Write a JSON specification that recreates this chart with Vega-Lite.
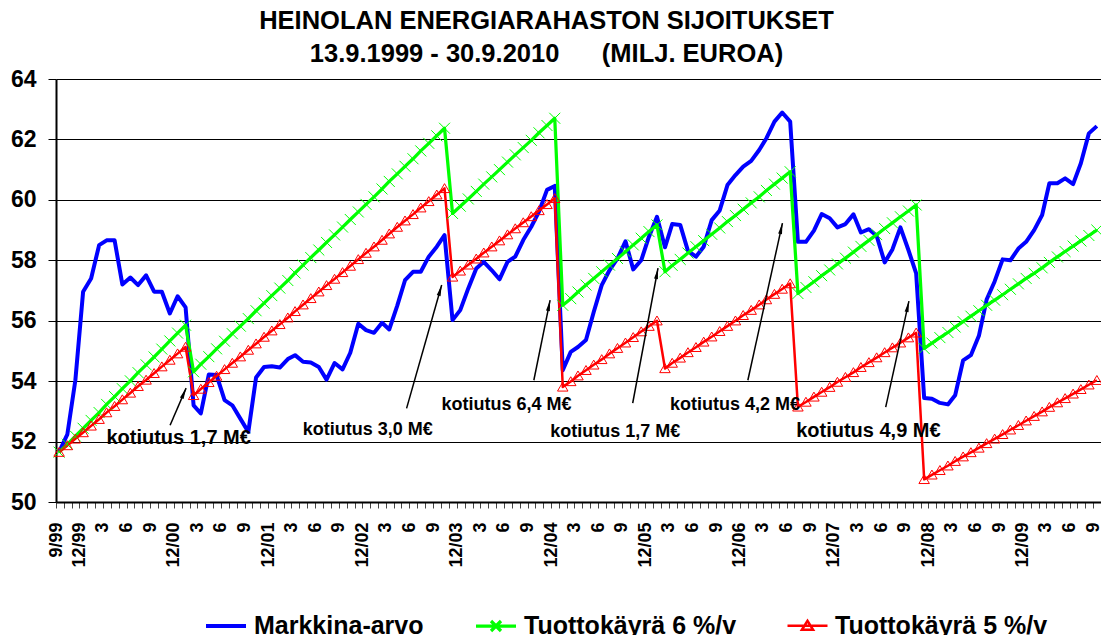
{
  "$schema": "https://vega.github.io/schema/vega-lite/v6.json",
  "autosize": {"type": "none"},
  "width": 1045,
  "height": 423,
  "padding": {"left": 56, "top": 79, "right": 0, "bottom": 133},
  "background": "white",
  "config": {
    "view": {"stroke": null},
    "font": "Liberation Sans"
  },
  "title": {
    "text": ["HEINOLAN ENERGIARAHASTON SIJOITUKSET", "13.9.1999 - 30.9.2010\u00a0\u00a0\u00a0\u00a0\u00a0\u00a0(MILJ. EUROA)"],
    "font": "Liberation Sans",
    "fontSize": 25.5,
    "fontWeight": "bold",
    "color": "black",
    "anchor": "middle",
    "frame": "group",
    "dx": -32,
    "offset": 1,
    "lineHeight": 33
  },
  "datasets": {
    "series": [
      {"d": "1999-09-13", "Markkina-arvo": 51.66, "Tuottokäyrä 6 %/v": 51.65, "Tuottokäyrä 5 %/v": 51.65},
      {"d": "1999-10-15", "Markkina-arvo": 52.24, "Tuottokäyrä 6 %/v": 51.91, "Tuottokäyrä 5 %/v": 51.87},
      {"d": "1999-11-15", "Markkina-arvo": 54.03, "Tuottokäyrä 6 %/v": 52.18, "Tuottokäyrä 5 %/v": 52.09},
      {"d": "1999-12-15", "Markkina-arvo": 56.96, "Tuottokäyrä 6 %/v": 52.44, "Tuottokäyrä 5 %/v": 52.30},
      {"d": "2000-01-15", "Markkina-arvo": 57.4, "Tuottokäyrä 6 %/v": 52.70, "Tuottokäyrä 5 %/v": 52.52},
      {"d": "2000-02-15", "Markkina-arvo": 58.5, "Tuottokäyrä 6 %/v": 52.96, "Tuottokäyrä 5 %/v": 52.74},
      {"d": "2000-03-15", "Markkina-arvo": 58.66, "Tuottokäyrä 6 %/v": 53.23, "Tuottokäyrä 5 %/v": 52.96},
      {"d": "2000-04-15", "Markkina-arvo": 58.66, "Tuottokäyrä 6 %/v": 53.49, "Tuottokäyrä 5 %/v": 53.17},
      {"d": "2000-05-15", "Markkina-arvo": 57.2, "Tuottokäyrä 6 %/v": 53.75, "Tuottokäyrä 5 %/v": 53.39},
      {"d": "2000-06-15", "Markkina-arvo": 57.43, "Tuottokäyrä 6 %/v": 54.01, "Tuottokäyrä 5 %/v": 53.61},
      {"d": "2000-07-15", "Markkina-arvo": 57.18, "Tuottokäyrä 6 %/v": 54.28, "Tuottokäyrä 5 %/v": 53.83},
      {"d": "2000-08-15", "Markkina-arvo": 57.5, "Tuottokäyrä 6 %/v": 54.54, "Tuottokäyrä 5 %/v": 54.04},
      {"d": "2000-09-15", "Markkina-arvo": 56.96, "Tuottokäyrä 6 %/v": 54.80, "Tuottokäyrä 5 %/v": 54.26},
      {"d": "2000-10-15", "Markkina-arvo": 56.96, "Tuottokäyrä 6 %/v": 55.06, "Tuottokäyrä 5 %/v": 54.48},
      {"d": "2000-11-15", "Markkina-arvo": 56.24, "Tuottokäyrä 6 %/v": 55.33, "Tuottokäyrä 5 %/v": 54.70},
      {"d": "2000-12-15", "Markkina-arvo": 56.81, "Tuottokäyrä 6 %/v": 55.59, "Tuottokäyrä 5 %/v": 54.91},
      {"d": "2001-01-15", "Markkina-arvo": 56.44, "Tuottokäyrä 6 %/v": 55.85, "Tuottokäyrä 5 %/v": 55.13},
      {"d": "2001-02-15", "Markkina-arvo": 53.2, "Tuottokäyrä 6 %/v": 54.31, "Tuottokäyrä 5 %/v": 53.53},
      {"d": "2001-03-15", "Markkina-arvo": 52.93, "Tuottokäyrä 6 %/v": 54.56, "Tuottokäyrä 5 %/v": 53.74},
      {"d": "2001-04-15", "Markkina-arvo": 54.22, "Tuottokäyrä 6 %/v": 54.81, "Tuottokäyrä 5 %/v": 53.96},
      {"d": "2001-05-15", "Markkina-arvo": 54.2, "Tuottokäyrä 6 %/v": 55.07, "Tuottokäyrä 5 %/v": 54.17},
      {"d": "2001-06-15", "Markkina-arvo": 53.37, "Tuottokäyrä 6 %/v": 55.32, "Tuottokäyrä 5 %/v": 54.39},
      {"d": "2001-07-15", "Markkina-arvo": 53.2, "Tuottokäyrä 6 %/v": 55.57, "Tuottokäyrä 5 %/v": 54.60},
      {"d": "2001-08-15", "Markkina-arvo": 52.76, "Tuottokäyrä 6 %/v": 55.82, "Tuottokäyrä 5 %/v": 54.81},
      {"d": "2001-09-15", "Markkina-arvo": 52.32, "Tuottokäyrä 6 %/v": 56.07, "Tuottokäyrä 5 %/v": 55.03},
      {"d": "2001-10-15", "Markkina-arvo": 54.12, "Tuottokäyrä 6 %/v": 56.33, "Tuottokäyrä 5 %/v": 55.24},
      {"d": "2001-11-15", "Markkina-arvo": 54.47, "Tuottokäyrä 6 %/v": 56.58, "Tuottokäyrä 5 %/v": 55.46},
      {"d": "2001-12-15", "Markkina-arvo": 54.49, "Tuottokäyrä 6 %/v": 56.83, "Tuottokäyrä 5 %/v": 55.67},
      {"d": "2002-01-15", "Markkina-arvo": 54.45, "Tuottokäyrä 6 %/v": 57.08, "Tuottokäyrä 5 %/v": 55.88},
      {"d": "2002-02-15", "Markkina-arvo": 54.73, "Tuottokäyrä 6 %/v": 57.33, "Tuottokäyrä 5 %/v": 56.10},
      {"d": "2002-03-15", "Markkina-arvo": 54.86, "Tuottokäyrä 6 %/v": 57.58, "Tuottokäyrä 5 %/v": 56.31},
      {"d": "2002-04-15", "Markkina-arvo": 54.64, "Tuottokäyrä 6 %/v": 57.84, "Tuottokäyrä 5 %/v": 56.53},
      {"d": "2002-05-15", "Markkina-arvo": 54.62, "Tuottokäyrä 6 %/v": 58.09, "Tuottokäyrä 5 %/v": 56.74},
      {"d": "2002-06-15", "Markkina-arvo": 54.47, "Tuottokäyrä 6 %/v": 58.34, "Tuottokäyrä 5 %/v": 56.96},
      {"d": "2002-07-15", "Markkina-arvo": 54.05, "Tuottokäyrä 6 %/v": 58.59, "Tuottokäyrä 5 %/v": 57.17},
      {"d": "2002-08-15", "Markkina-arvo": 54.6, "Tuottokäyrä 6 %/v": 58.84, "Tuottokäyrä 5 %/v": 57.38},
      {"d": "2002-09-15", "Markkina-arvo": 54.39, "Tuottokäyrä 6 %/v": 59.10, "Tuottokäyrä 5 %/v": 57.60},
      {"d": "2002-10-15", "Markkina-arvo": 54.94, "Tuottokäyrä 6 %/v": 59.35, "Tuottokäyrä 5 %/v": 57.81},
      {"d": "2002-11-15", "Markkina-arvo": 55.9, "Tuottokäyrä 6 %/v": 59.60, "Tuottokäyrä 5 %/v": 58.03},
      {"d": "2002-12-15", "Markkina-arvo": 55.69, "Tuottokäyrä 6 %/v": 59.85, "Tuottokäyrä 5 %/v": 58.24},
      {"d": "2003-01-15", "Markkina-arvo": 55.6, "Tuottokäyrä 6 %/v": 60.10, "Tuottokäyrä 5 %/v": 58.45},
      {"d": "2003-02-15", "Markkina-arvo": 55.93, "Tuottokäyrä 6 %/v": 60.36, "Tuottokäyrä 5 %/v": 58.67},
      {"d": "2003-03-15", "Markkina-arvo": 55.71, "Tuottokäyrä 6 %/v": 60.61, "Tuottokäyrä 5 %/v": 58.88},
      {"d": "2003-04-15", "Markkina-arvo": 56.5, "Tuottokäyrä 6 %/v": 60.86, "Tuottokäyrä 5 %/v": 59.10},
      {"d": "2003-05-15", "Markkina-arvo": 57.34, "Tuottokäyrä 6 %/v": 61.11, "Tuottokäyrä 5 %/v": 59.31},
      {"d": "2003-06-15", "Markkina-arvo": 57.62, "Tuottokäyrä 6 %/v": 61.36, "Tuottokäyrä 5 %/v": 59.52},
      {"d": "2003-07-15", "Markkina-arvo": 57.62, "Tuottokäyrä 6 %/v": 61.62, "Tuottokäyrä 5 %/v": 59.74},
      {"d": "2003-08-15", "Markkina-arvo": 58.12, "Tuottokäyrä 6 %/v": 61.87, "Tuottokäyrä 5 %/v": 59.95},
      {"d": "2003-09-15", "Markkina-arvo": 58.45, "Tuottokäyrä 6 %/v": 62.12, "Tuottokäyrä 5 %/v": 60.17},
      {"d": "2003-10-15", "Markkina-arvo": 58.83, "Tuottokäyrä 6 %/v": 62.37, "Tuottokäyrä 5 %/v": 60.38},
      {"d": "2003-11-15", "Markkina-arvo": 56.02, "Tuottokäyrä 6 %/v": 59.55, "Tuottokäyrä 5 %/v": 57.45},
      {"d": "2003-12-15", "Markkina-arvo": 56.35, "Tuottokäyrä 6 %/v": 59.79, "Tuottokäyrä 5 %/v": 57.65},
      {"d": "2004-01-15", "Markkina-arvo": 57.07, "Tuottokäyrä 6 %/v": 60.03, "Tuottokäyrä 5 %/v": 57.85},
      {"d": "2004-02-15", "Markkina-arvo": 57.73, "Tuottokäyrä 6 %/v": 60.28, "Tuottokäyrä 5 %/v": 58.05},
      {"d": "2004-03-15", "Markkina-arvo": 57.95, "Tuottokäyrä 6 %/v": 60.52, "Tuottokäyrä 5 %/v": 58.25},
      {"d": "2004-04-15", "Markkina-arvo": 57.67, "Tuottokäyrä 6 %/v": 60.76, "Tuottokäyrä 5 %/v": 58.45},
      {"d": "2004-05-15", "Markkina-arvo": 57.37, "Tuottokäyrä 6 %/v": 61.00, "Tuottokäyrä 5 %/v": 58.65},
      {"d": "2004-06-15", "Markkina-arvo": 57.95, "Tuottokäyrä 6 %/v": 61.25, "Tuottokäyrä 5 %/v": 58.85},
      {"d": "2004-07-15", "Markkina-arvo": 58.12, "Tuottokäyrä 6 %/v": 61.49, "Tuottokäyrä 5 %/v": 59.05},
      {"d": "2004-08-15", "Markkina-arvo": 58.67, "Tuottokäyrä 6 %/v": 61.73, "Tuottokäyrä 5 %/v": 59.25},
      {"d": "2004-09-15", "Markkina-arvo": 59.11, "Tuottokäyrä 6 %/v": 61.97, "Tuottokäyrä 5 %/v": 59.45},
      {"d": "2004-10-15", "Markkina-arvo": 59.61, "Tuottokäyrä 6 %/v": 62.22, "Tuottokäyrä 5 %/v": 59.65},
      {"d": "2004-11-15", "Markkina-arvo": 60.33, "Tuottokäyrä 6 %/v": 62.46, "Tuottokäyrä 5 %/v": 59.85},
      {"d": "2004-12-15", "Markkina-arvo": 60.46, "Tuottokäyrä 6 %/v": 62.70, "Tuottokäyrä 5 %/v": 60.05},
      {"d": "2005-01-15", "Markkina-arvo": 54.36, "Tuottokäyrä 6 %/v": 56.51, "Tuottokäyrä 5 %/v": 53.81},
      {"d": "2005-02-15", "Markkina-arvo": 54.97, "Tuottokäyrä 6 %/v": 56.73, "Tuottokäyrä 5 %/v": 53.99},
      {"d": "2005-03-15", "Markkina-arvo": 55.13, "Tuottokäyrä 6 %/v": 56.95, "Tuottokäyrä 5 %/v": 54.18},
      {"d": "2005-04-15", "Markkina-arvo": 55.36, "Tuottokäyrä 6 %/v": 57.18, "Tuottokäyrä 5 %/v": 54.36},
      {"d": "2005-05-15", "Markkina-arvo": 56.29, "Tuottokäyrä 6 %/v": 57.40, "Tuottokäyrä 5 %/v": 54.54},
      {"d": "2005-06-15", "Markkina-arvo": 57.18, "Tuottokäyrä 6 %/v": 57.62, "Tuottokäyrä 5 %/v": 54.72},
      {"d": "2005-07-15", "Markkina-arvo": 57.67, "Tuottokäyrä 6 %/v": 57.84, "Tuottokäyrä 5 %/v": 54.91},
      {"d": "2005-08-15", "Markkina-arvo": 58.06, "Tuottokäyrä 6 %/v": 58.06, "Tuottokäyrä 5 %/v": 55.09},
      {"d": "2005-09-15", "Markkina-arvo": 58.63, "Tuottokäyrä 6 %/v": 58.28, "Tuottokäyrä 5 %/v": 55.27},
      {"d": "2005-10-15", "Markkina-arvo": 57.7, "Tuottokäyrä 6 %/v": 58.51, "Tuottokäyrä 5 %/v": 55.45},
      {"d": "2005-11-15", "Markkina-arvo": 58.0, "Tuottokäyrä 6 %/v": 58.73, "Tuottokäyrä 5 %/v": 55.64},
      {"d": "2005-12-15", "Markkina-arvo": 58.78, "Tuottokäyrä 6 %/v": 58.95, "Tuottokäyrä 5 %/v": 55.82},
      {"d": "2006-01-15", "Markkina-arvo": 59.44, "Tuottokäyrä 6 %/v": 59.17, "Tuottokäyrä 5 %/v": 56.00},
      {"d": "2006-02-15", "Markkina-arvo": 58.43, "Tuottokäyrä 6 %/v": 57.62, "Tuottokäyrä 5 %/v": 54.42},
      {"d": "2006-03-15", "Markkina-arvo": 59.2, "Tuottokäyrä 6 %/v": 57.83, "Tuottokäyrä 5 %/v": 54.60},
      {"d": "2006-04-15", "Markkina-arvo": 59.17, "Tuottokäyrä 6 %/v": 58.03, "Tuottokäyrä 5 %/v": 54.77},
      {"d": "2006-05-15", "Markkina-arvo": 58.31, "Tuottokäyrä 6 %/v": 58.24, "Tuottokäyrä 5 %/v": 54.95},
      {"d": "2006-06-15", "Markkina-arvo": 58.12, "Tuottokäyrä 6 %/v": 58.45, "Tuottokäyrä 5 %/v": 55.12},
      {"d": "2006-07-15", "Markkina-arvo": 58.45, "Tuottokäyrä 6 %/v": 58.65, "Tuottokäyrä 5 %/v": 55.30},
      {"d": "2006-08-15", "Markkina-arvo": 59.33, "Tuottokäyrä 6 %/v": 58.86, "Tuottokäyrä 5 %/v": 55.47},
      {"d": "2006-09-15", "Markkina-arvo": 59.65, "Tuottokäyrä 6 %/v": 59.07, "Tuottokäyrä 5 %/v": 55.65},
      {"d": "2006-10-15", "Markkina-arvo": 60.49, "Tuottokäyrä 6 %/v": 59.28, "Tuottokäyrä 5 %/v": 55.82},
      {"d": "2006-11-15", "Markkina-arvo": 60.82, "Tuottokäyrä 6 %/v": 59.48, "Tuottokäyrä 5 %/v": 56.00},
      {"d": "2006-12-15", "Markkina-arvo": 61.1, "Tuottokäyrä 6 %/v": 59.69, "Tuottokäyrä 5 %/v": 56.18},
      {"d": "2007-01-15", "Markkina-arvo": 61.29, "Tuottokäyrä 6 %/v": 59.90, "Tuottokäyrä 5 %/v": 56.35},
      {"d": "2007-02-15", "Markkina-arvo": 61.65, "Tuottokäyrä 6 %/v": 60.10, "Tuottokäyrä 5 %/v": 56.53},
      {"d": "2007-03-15", "Markkina-arvo": 62.04, "Tuottokäyrä 6 %/v": 60.31, "Tuottokäyrä 5 %/v": 56.70},
      {"d": "2007-04-15", "Markkina-arvo": 62.59, "Tuottokäyrä 6 %/v": 60.52, "Tuottokäyrä 5 %/v": 56.88},
      {"d": "2007-05-15", "Markkina-arvo": 62.89, "Tuottokäyrä 6 %/v": 60.72, "Tuottokäyrä 5 %/v": 57.05},
      {"d": "2007-06-15", "Markkina-arvo": 62.59, "Tuottokäyrä 6 %/v": 60.93, "Tuottokäyrä 5 %/v": 57.23},
      {"d": "2007-07-15", "Markkina-arvo": 58.61, "Tuottokäyrä 6 %/v": 56.90, "Tuottokäyrä 5 %/v": 53.15},
      {"d": "2007-08-15", "Markkina-arvo": 58.61, "Tuottokäyrä 6 %/v": 57.10, "Tuottokäyrä 5 %/v": 53.31},
      {"d": "2007-09-15", "Markkina-arvo": 58.98, "Tuottokäyrä 6 %/v": 57.29, "Tuottokäyrä 5 %/v": 53.48},
      {"d": "2007-10-15", "Markkina-arvo": 59.53, "Tuottokäyrä 6 %/v": 57.49, "Tuottokäyrä 5 %/v": 53.64},
      {"d": "2007-11-15", "Markkina-arvo": 59.39, "Tuottokäyrä 6 %/v": 57.68, "Tuottokäyrä 5 %/v": 53.80},
      {"d": "2007-12-15", "Markkina-arvo": 59.09, "Tuottokäyrä 6 %/v": 57.88, "Tuottokäyrä 5 %/v": 53.97},
      {"d": "2008-01-15", "Markkina-arvo": 59.2, "Tuottokäyrä 6 %/v": 58.07, "Tuottokäyrä 5 %/v": 54.13},
      {"d": "2008-02-15", "Markkina-arvo": 59.52, "Tuottokäyrä 6 %/v": 58.27, "Tuottokäyrä 5 %/v": 54.29},
      {"d": "2008-03-15", "Markkina-arvo": 58.92, "Tuottokäyrä 6 %/v": 58.46, "Tuottokäyrä 5 %/v": 54.46},
      {"d": "2008-04-15", "Markkina-arvo": 59.03, "Tuottokäyrä 6 %/v": 58.66, "Tuottokäyrä 5 %/v": 54.62},
      {"d": "2008-05-15", "Markkina-arvo": 58.81, "Tuottokäyrä 6 %/v": 58.85, "Tuottokäyrä 5 %/v": 54.78},
      {"d": "2008-06-15", "Markkina-arvo": 57.93, "Tuottokäyrä 6 %/v": 59.05, "Tuottokäyrä 5 %/v": 54.95},
      {"d": "2008-07-15", "Markkina-arvo": 58.36, "Tuottokäyrä 6 %/v": 59.24, "Tuottokäyrä 5 %/v": 55.11},
      {"d": "2008-08-15", "Markkina-arvo": 59.09, "Tuottokäyrä 6 %/v": 59.44, "Tuottokäyrä 5 %/v": 55.27},
      {"d": "2008-09-15", "Markkina-arvo": 58.34, "Tuottokäyrä 6 %/v": 59.63, "Tuottokäyrä 5 %/v": 55.44},
      {"d": "2008-10-15", "Markkina-arvo": 57.57, "Tuottokäyrä 6 %/v": 59.83, "Tuottokäyrä 5 %/v": 55.60},
      {"d": "2008-11-15", "Markkina-arvo": 53.44, "Tuottokäyrä 6 %/v": 55.08, "Tuottokäyrä 5 %/v": 50.75},
      {"d": "2008-12-15", "Markkina-arvo": 53.42, "Tuottokäyrä 6 %/v": 55.26, "Tuottokäyrä 5 %/v": 50.90},
      {"d": "2009-01-15", "Markkina-arvo": 53.28, "Tuottokäyrä 6 %/v": 55.44, "Tuottokäyrä 5 %/v": 51.05},
      {"d": "2009-02-15", "Markkina-arvo": 53.23, "Tuottokäyrä 6 %/v": 55.61, "Tuottokäyrä 5 %/v": 51.20},
      {"d": "2009-03-15", "Markkina-arvo": 53.53, "Tuottokäyrä 6 %/v": 55.79, "Tuottokäyrä 5 %/v": 51.35},
      {"d": "2009-04-15", "Markkina-arvo": 54.69, "Tuottokäyrä 6 %/v": 55.97, "Tuottokäyrä 5 %/v": 51.50},
      {"d": "2009-05-15", "Markkina-arvo": 54.86, "Tuottokäyrä 6 %/v": 56.15, "Tuottokäyrä 5 %/v": 51.64},
      {"d": "2009-06-15", "Markkina-arvo": 55.5, "Tuottokäyrä 6 %/v": 56.33, "Tuottokäyrä 5 %/v": 51.79},
      {"d": "2009-07-15", "Markkina-arvo": 56.7, "Tuottokäyrä 6 %/v": 56.51, "Tuottokäyrä 5 %/v": 51.94},
      {"d": "2009-08-15", "Markkina-arvo": 57.3, "Tuottokäyrä 6 %/v": 56.68, "Tuottokäyrä 5 %/v": 52.09},
      {"d": "2009-09-15", "Markkina-arvo": 58.03, "Tuottokäyrä 6 %/v": 56.86, "Tuottokäyrä 5 %/v": 52.24},
      {"d": "2009-10-15", "Markkina-arvo": 58.0, "Tuottokäyrä 6 %/v": 57.04, "Tuottokäyrä 5 %/v": 52.39},
      {"d": "2009-11-15", "Markkina-arvo": 58.39, "Tuottokäyrä 6 %/v": 57.22, "Tuottokäyrä 5 %/v": 52.54},
      {"d": "2009-12-15", "Markkina-arvo": 58.61, "Tuottokäyrä 6 %/v": 57.40, "Tuottokäyrä 5 %/v": 52.69},
      {"d": "2010-01-15", "Markkina-arvo": 59.0, "Tuottokäyrä 6 %/v": 57.57, "Tuottokäyrä 5 %/v": 52.84},
      {"d": "2010-02-15", "Markkina-arvo": 59.5, "Tuottokäyrä 6 %/v": 57.75, "Tuottokäyrä 5 %/v": 52.99},
      {"d": "2010-03-15", "Markkina-arvo": 60.55, "Tuottokäyrä 6 %/v": 57.93, "Tuottokäyrä 5 %/v": 53.14},
      {"d": "2010-04-15", "Markkina-arvo": 60.55, "Tuottokäyrä 6 %/v": 58.11, "Tuottokäyrä 5 %/v": 53.29},
      {"d": "2010-05-15", "Markkina-arvo": 60.71, "Tuottokäyrä 6 %/v": 58.29, "Tuottokäyrä 5 %/v": 53.43},
      {"d": "2010-06-15", "Markkina-arvo": 60.52, "Tuottokäyrä 6 %/v": 58.47, "Tuottokäyrä 5 %/v": 53.58},
      {"d": "2010-07-15", "Markkina-arvo": 61.21, "Tuottokäyrä 6 %/v": 58.64, "Tuottokäyrä 5 %/v": 53.73},
      {"d": "2010-08-15", "Markkina-arvo": 62.2, "Tuottokäyrä 6 %/v": 58.82, "Tuottokäyrä 5 %/v": 53.88},
      {"d": "2010-09-15", "Markkina-arvo": 62.44, "Tuottokäyrä 6 %/v": 59.00, "Tuottokäyrä 5 %/v": 54.03}
    ],
    "arrows": [
      {"d1": "2000-11-16", "v1": 52.54, "d2": "2001-01-17", "v2": 53.77},
      {"d1": "2003-05-21", "v1": 53.10, "d2": "2003-10-04", "v2": 57.18},
      {"d1": "2004-09-25", "v1": 54.03, "d2": "2004-11-27", "v2": 56.68},
      {"d1": "2005-10-13", "v1": 53.27, "d2": "2006-01-19", "v2": 57.74},
      {"d1": "2007-01-02", "v1": 54.03, "d2": "2007-05-16", "v2": 59.23},
      {"d1": "2008-06-19", "v1": 53.14, "d2": "2008-09-17", "v2": 56.65}
    ],
    "notesLarge": [
      {"d": "2000-12-19", "v": 51.91, "t": "kotiutus 1,7 M€"},
      {"d": "2008-04-13", "v": 52.15, "t": "kotiutus 4,9 M€"}
    ],
    "notesSmall": [
      {"d": "2002-12-22", "v": 52.21, "t": "kotiutus 3,0 M€"},
      {"d": "2004-06-11", "v": 53.04, "t": "kotiutus 6,4 M€"},
      {"d": "2005-08-06", "v": 52.15, "t": "kotiutus 1,7 M€"},
      {"d": "2006-11-13", "v": 53.04, "t": "kotiutus 4,2 M€"}
    ]
  },
  "data": {"name": "series"},
  "transform": [
    {"fold": ["Markkina-arvo", "Tuottokäyrä 6 %/v", "Tuottokäyrä 5 %/v"], "as": ["sarja", "arvo"]}
  ],
  "encoding": {
    "x": {
      "field": "d",
      "type": "temporal",
      "scale": {"type": "utc", "domain": [{"year": 1999, "month": 9, "date": 1, "utc": true}, {"year": 2010, "month": 10, "date": 1, "utc": true}], "nice": false},
      "axis": {
        "title": null,
        "grid": false,
        "tickCount": {"interval": "month", "step": 1},
        "labelExpr": "utcyear(datum.value) == 1999 && utcmonth(datum.value) == 8 ? '9/99' : (utcmonth(datum.value) == 11 ? '12/' + utcFormat(datum.value, '%y') : (utcmonth(datum.value) % 3 == 2 ? '' + (utcmonth(datum.value) + 1) : ''))",
        "labelAngle": 270,
        "labelAlign": "right",
        "labelBaseline": "middle",
        "labelFont": "Liberation Sans",
        "labelFontSize": 18,
        "labelFontWeight": "bold",
        "labelColor": "black",
        "labelOverlap": false,
        "labelFlush": false,
        "labelBound": false,
        "labelPadding": 14,
        "tickSize": 6,
        "tickColor": "#444",
        "tickWidth": 1,
        "domainColor": "black",
        "domainWidth": 2
      }
    },
    "y": {
      "field": "arvo",
      "type": "quantitative",
      "scale": {"domain": [50, 64], "nice": false, "zero": false},
      "axis": {
        "title": null,
        "values": [50, 52, 54, 56, 58, 60, 62, 64],
        "grid": true,
        "gridColor": "black",
        "gridWidth": 1,
        "tickSize": 8,
        "tickColor": "black",
        "tickWidth": 1,
        "domainColor": "black",
        "domainWidth": 2,
        "labelFont": "Liberation Sans",
        "labelFontSize": 23,
        "labelFontWeight": "bold",
        "labelColor": "black",
        "labelPadding": 12
      }
    }
  },
  "layer": [
    {
      "mark": {"type": "line", "strokeJoin": "round"},
      "encoding": {
        "color": {
          "field": "sarja",
          "type": "nominal",
          "sort": ["Markkina-arvo", "Tuottokäyrä 6 %/v", "Tuottokäyrä 5 %/v"],
          "scale": {"domain": ["Markkina-arvo", "Tuottokäyrä 6 %/v", "Tuottokäyrä 5 %/v"], "range": ["#0000FF", "#00FF00", "#FF0000"]},
          "legend": {
            "orient": "none",
            "legendX": 148,
            "legendY": 525,
            "direction": "horizontal",
            "title": null,
            "labelFont": "Liberation Sans",
            "labelFontSize": 25,
            "labelFontWeight": "bold",
            "labelColor": "black",
            "labelOffset": 6,
            "labelLimit": 400,
            "columnPadding": 45,
            "symbolSize": 1600,
            "symbolStrokeWidth": 2,
            "padding": 0,
            "encode": {
              "symbols": {
                "update": {
                  "shape": {"signal": "datum.value === 'Markkina-arvo' ? 'M-1,0H1' : (datum.value === 'Tuottokäyrä 6 %/v' ? 'M-1,0H1M-0.25,-0.25L0.25,0.25M-0.25,0.25L0.25,-0.25' : 'M-1,0H1M-0.28,0.2L0,-0.25L0.28,0.2Z')"},
                  "strokeWidth": {"signal": "datum.value === 'Markkina-arvo' ? 4 : 2"},
                  "fill": {"value": "transparent"}
                }
              }
            }
          }
        },
        "order": {"field": "d", "type": "temporal"},
        "strokeWidth": {
          "field": "sarja",
          "type": "nominal",
          "scale": {"domain": ["Markkina-arvo", "Tuottokäyrä 6 %/v", "Tuottokäyrä 5 %/v"], "range": [4, 2.5, 2]},
          "legend": null
        }
      }
    },
    {
      "transform": [{"filter": "datum.sarja === 'Tuottokäyrä 6 %/v'"}],
      "mark": {"type": "point", "shape": "M-1,-1L1,1M-1,1L1,-1", "filled": false, "color": "#00FF00", "strokeWidth": 1, "size": 121, "opacity": 1}
    },
    {
      "transform": [{"filter": "datum.sarja === 'Tuottokäyrä 5 %/v'"}],
      "mark": {"type": "point", "shape": "M-1,0.8L0,-0.9L1,0.8Z", "filled": false, "color": "#FF0000", "strokeWidth": 1, "size": 110, "opacity": 1}
    },
    {
      "data": {"name": "arrows"},
      "mark": {"type": "rule", "color": "black", "strokeWidth": 1.5},
      "encoding": {
        "x": {"field": "d1", "type": "temporal"},
        "y": {"field": "v1", "type": "quantitative"},
        "x2": {"field": "d2"},
        "y2": {"field": "v2"}
      }
    },
    {
      "data": {"name": "arrows"},
      "transform": [
        {"calculate": "atan2(scale('x', toDate(datum.d2)) - scale('x', toDate(datum.d1)), scale('y', datum.v1) - scale('y', datum.v2)) * 180 / PI", "as": "suunta"}
      ],
      "mark": {"type": "point", "shape": "M0,0L0.36,2L-0.36,2Z", "filled": true, "color": "black", "size": 121, "opacity": 1},
      "encoding": {
        "x": {"field": "d2", "type": "temporal"},
        "y": {"field": "v2", "type": "quantitative"},
        "angle": {"field": "suunta", "type": "quantitative", "scale": null}
      }
    },
    {
      "data": {"name": "notesLarge"},
      "mark": {"type": "text", "font": "Liberation Sans", "fontSize": 20, "fontWeight": "bold", "color": "black", "align": "center", "baseline": "alphabetic"},
      "encoding": {
        "x": {"field": "d", "type": "temporal"},
        "y": {"field": "v", "type": "quantitative"},
        "text": {"field": "t"}
      }
    },
    {
      "data": {"name": "notesSmall"},
      "mark": {"type": "text", "font": "Liberation Sans", "fontSize": 18, "fontWeight": "bold", "color": "black", "align": "center", "baseline": "alphabetic"},
      "encoding": {
        "x": {"field": "d", "type": "temporal"},
        "y": {"field": "v", "type": "quantitative"},
        "text": {"field": "t"}
      }
    }
  ]
}
